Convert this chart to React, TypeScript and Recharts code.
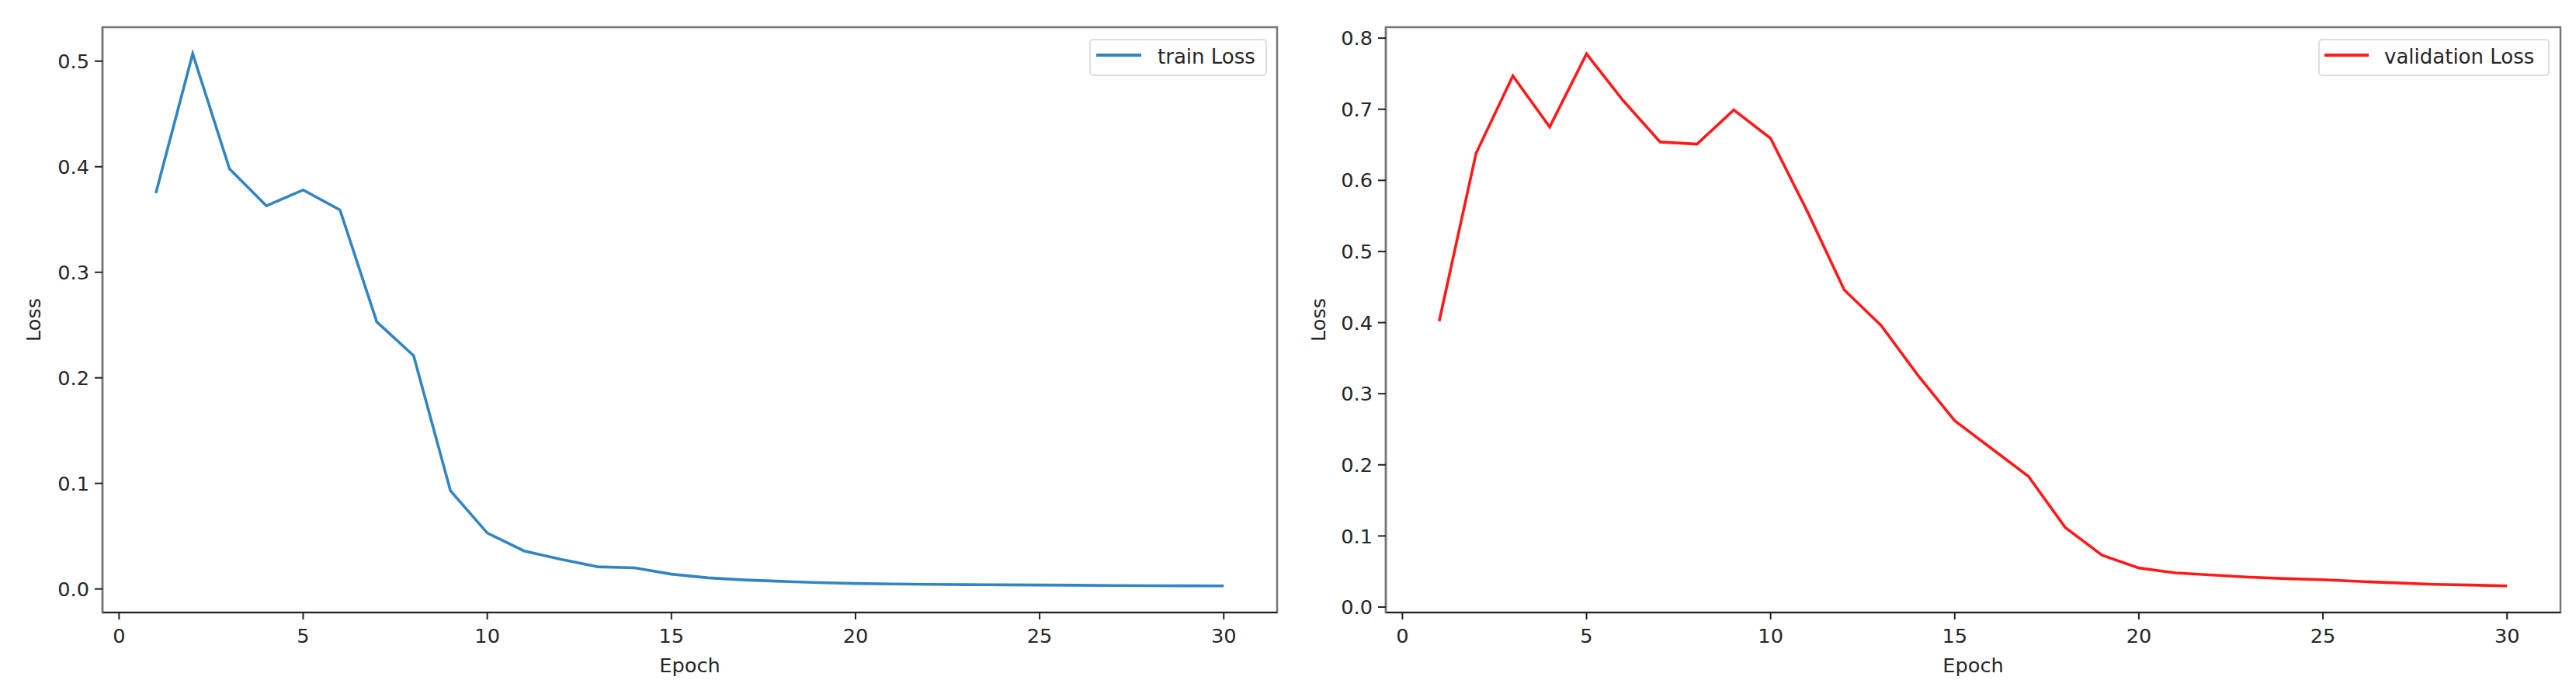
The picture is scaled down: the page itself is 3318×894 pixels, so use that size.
import { Legend, Line, LineChart, ReferenceArea, XAxis, YAxis } from "recharts";

const epochs = [1, 2, 3, 4, 5, 6, 7, 8, 9, 10, 11, 12, 13, 14, 15, 16, 17, 18, 19, 20, 21, 22, 23, 24, 25, 26, 27, 28, 29, 30];

const trainLoss = [
  0.375, 0.507, 0.398, 0.363, 0.378, 0.359, 0.253, 0.221, 0.093, 0.053, 0.036, 0.028, 0.021, 0.02, 0.014,
  0.0105, 0.0085, 0.0072, 0.006, 0.0052, 0.0047, 0.0044, 0.0041, 0.0039, 0.0037, 0.0035, 0.0033, 0.0031, 0.003, 0.0029,
];

const validationLoss = [
  0.402, 0.638, 0.747, 0.675, 0.778, 0.712, 0.654, 0.651, 0.699, 0.659, 0.556, 0.446, 0.396, 0.326, 0.262,
  0.223, 0.184, 0.112, 0.073, 0.055, 0.048, 0.045, 0.042, 0.04, 0.0385, 0.036, 0.034, 0.032, 0.031, 0.0298,
];

const xTicks = [0, 5, 10, 15, 20, 25, 30];
const trainTicks = [0, 0.1, 0.2, 0.3, 0.4, 0.5];
const validationTicks = [0, 0.1, 0.2, 0.3, 0.4, 0.5, 0.6, 0.7, 0.8];

const FONT = "'DejaVu Sans', sans-serif";
const FS = 25.6;
const TEXT = "#262626";

type Row = { epoch: number; loss: number };

// matplotlib-style 5% margins around the data
function padded(vals: number[]): [number, number] {
  const lo = Math.min(...vals);
  const hi = Math.max(...vals);
  const m = (hi - lo) * 0.05;
  return [lo - m, hi + m];
}

const xDomain = padded(epochs);

type PanelProps = {
  values: number[];
  yTicks: number[];
  color: string;
  name: string;
  yWidth: number;
  rightMargin: number;
  yLabelX: number;
  legend: { left: number; width: number; lineX1: number; lineX2: number; textX: number };
};

function Panel({ values, yTicks, color, name, yWidth, rightMargin, yLabelX, legend }: PanelProps) {
  const data: Row[] = epochs.map((e, i) => ({ epoch: e, loss: values[i] }));
  const yDomain = padded(values);
  const tickStyle = { fill: TEXT, fontSize: FS, fontFamily: FONT };

  return (
    <LineChart width={1659} height={894} data={data} margin={{ top: 35, right: rightMargin, bottom: 0, left: 0 }}>
      {/* axes frame (matplotlib spines) */}
      <ReferenceArea
        x1={xDomain[0]}
        x2={xDomain[1]}
        y1={yDomain[0]}
        y2={yDomain[1]}
        fill="none"
        fillOpacity={0}
        stroke="#777"
        strokeWidth={2.5}
        ifOverflow="visible"
      />
      <XAxis
        dataKey="epoch"
        type="number"
        domain={xDomain}
        ticks={xTicks}
        allowDataOverflow
        height={105}
        tickSize={9}
        tickMargin={12}
        tick={tickStyle}
        axisLine={{ stroke: "#222", strokeWidth: 2.2 }}
        tickLine={{ stroke: "#222", strokeWidth: 2 }}
        label={{
          content: ({ viewBox }: any) => {
            const cx = viewBox ? viewBox.x + viewBox.width / 2 : 888;
            const y = viewBox ? viewBox.y + 77 : 866;
            return (
              <text x={cx} y={y} textAnchor="middle" fill={TEXT} fontSize={FS} fontFamily={FONT}>
                Epoch
              </text>
            );
          },
        }}
      />
      <YAxis
        type="number"
        domain={yDomain}
        ticks={yTicks}
        allowDataOverflow
        width={yWidth}
        tickSize={10}
        tickMargin={7}
        tick={tickStyle}
        tickFormatter={(v: number) => v.toFixed(1)}
        axisLine={{ stroke: "#777", strokeWidth: 2.5 }}
        tickLine={{ stroke: "#222", strokeWidth: 2 }}
        label={{
          content: ({ viewBox }: any) => {
            const cy = viewBox ? viewBox.y + viewBox.height / 2 : 412;
            return (
              <text
                x={yLabelX}
                y={cy}
                transform={`rotate(-90 ${yLabelX} ${cy})`}
                textAnchor="middle"
                fill={TEXT}
                fontSize={FS}
                fontFamily={FONT}
              >
                Loss
              </text>
            );
          },
        }}
      />
      <Legend
        layout="vertical"
        align="center"
        verticalAlign="middle"
        wrapperStyle={{ left: legend.left, top: 50, width: legend.width, height: 48 }}
        content={() => (
          <svg width={legend.width} height={48} style={{ display: "block" }}>
            <rect x={1} y={1} width={legend.width - 2} height={46} rx={4} fill="#fff" stroke="#dedede" strokeWidth={2} />
            <line x1={legend.lineX1} x2={legend.lineX2} y1={21} y2={21} stroke={color} strokeWidth={4} />
            <text x={legend.textX} y={32} fill={TEXT} fontSize={26} fontFamily={FONT}>
              {name}
            </text>
          </svg>
        )}
      />
      <Line
        type="linear"
        dataKey="loss"
        name={name}
        stroke={color}
        strokeWidth={3.6}
        dot={false}
        activeDot={false}
        isAnimationActive={false}
      />
    </LineChart>
  );
}

export default function App() {
  return (
    <div style={{ position: "absolute", left: 0, top: 0, width: 3318, height: 894, background: "#fff" }}>
      <div style={{ position: "absolute", left: 0, top: 0 }}>
        <Panel
          values={trainLoss}
          yTicks={trainTicks}
          color="#3385c2"
          name="train Loss"
          yWidth={132}
          rightMargin={14}
          yLabelX={52}
          legend={{ left: 1403, width: 229, lineX1: 9, lineX2: 67, textX: 88 }}
        />
      </div>
      <div style={{ position: "absolute", left: 1659, top: 0 }}>
        <Panel
          values={validationLoss}
          yTicks={validationTicks}
          color="#ff1a1a"
          name="validation Loss"
          yWidth={126}
          rightMargin={20}
          yLabelX={48}
          legend={{ left: 1327, width: 298, lineX1: 8, lineX2: 65, textX: 85 }}
        />
      </div>
    </div>
  );
}
